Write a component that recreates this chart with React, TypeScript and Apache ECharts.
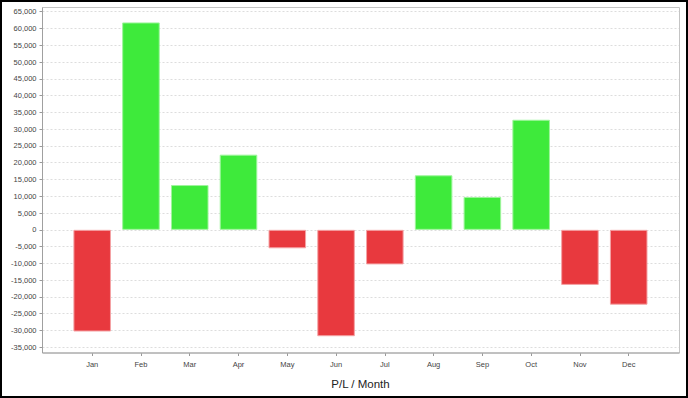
import React, { useEffect, useRef } from "react";
import * as echarts from "echarts";

const months = ["Jan", "Feb", "Mar", "Apr", "May", "Jun", "Jul", "Aug", "Sep", "Oct", "Nov", "Dec"];
const profitLoss = [-30300, 61800, 13350, 22400, -5500, -31700, -10300, 16250, 9800, 32800, -16400, -22300];
const yMin = -35000;
const yMax = 65000;
const yStep = 5000;
const axisTitle = "P/L / Month";

const FONT = "'Liberation Sans', Arial, sans-serif";

export default function App() {
  const ref = useRef<HTMLDivElement>(null);
  useEffect(() => {
    if (!ref.current) return;
    const chart = echarts.init(ref.current, undefined, { renderer: "svg" });
    const top = 11.7;
    const bottom = 398 - 347.3;
    chart.setOption({
      animation: false,
      backgroundColor: "#ffffff",
      grid: [
        { left: 42.5, right: 688 - 679.5, top, bottom },
        { left: 67.8, right: 688 - 653.1, top, bottom },
      ],
      xAxis: [
        { gridIndex: 0, type: "value", show: false, min: 0, max: 1 },
        {
          gridIndex: 1,
          type: "category",
          data: months,
          position: "bottom",
          offset: 5.7,
          axisLine: { show: false, onZero: false },
          axisTick: { show: true, alignWithLabel: true, length: 3, lineStyle: { color: "#999999" } },
          axisLabel: { fontFamily: FONT, fontSize: 7.5, color: "#444444", margin: 7 },
          name: axisTitle,
          nameLocation: "middle",
          nameGap: 24.5,
          nameTextStyle: { fontFamily: FONT, fontSize: 11.5, color: "#222222" },
        },
      ],
      yAxis: [
        {
          gridIndex: 0,
          type: "value",
          min: yMin,
          max: yMax,
          interval: yStep,
          axisLine: { show: false },
          axisTick: { show: true, length: 3, lineStyle: { color: "#999999" } },
          axisLabel: {
            fontFamily: FONT,
            fontSize: 7.5,
            color: "#444444",
            margin: 6,
            formatter: (v: number) => v.toLocaleString("en-US"),
          },
          splitLine: { show: true, lineStyle: { color: "#dddddd", type: [2, 2], width: 1 } },
        },
        { gridIndex: 1, type: "value", min: yMin, max: yMax, interval: yStep, show: false },
      ],
      series: [
        {
          type: "bar",
          xAxisIndex: 1,
          yAxisIndex: 1,
          barWidth: "77%",
          data: profitLoss.map((v) => ({
            value: v,
            itemStyle: v >= 0
              ? { color: "#3eea3b", borderColor: "#9ef59c", borderWidth: 1 }
              : { color: "#e8393e", borderColor: "#f4a3a5", borderWidth: 1 },
          })),
        },
      ],
      graphic: [
        {
          type: "rect",
          silent: true,
          z: 100,
          shape: { x: 42.5, y: 7.5, width: 637, height: 345.5 },
          style: { fill: "none", stroke: "#c4c4c4", lineWidth: 1 },
        },
        {
          type: "line",
          silent: true,
          z: 101,
          shape: { x1: 42.5, y1: 7.5, x2: 42.5, y2: 353 },
          style: { stroke: "#a0a0a0", lineWidth: 1 },
        },
        {
          type: "line",
          silent: true,
          z: 101,
          shape: { x1: 42.5, y1: 353, x2: 679.5, y2: 353 },
          style: { stroke: "#a0a0a0", lineWidth: 1 },
        },
        {
          type: "rect",
          silent: true,
          z: 102,
          shape: { x: 1, y: 1, width: 686, height: 396 },
          style: { fill: "none", stroke: "#000000", lineWidth: 2 },
        },
      ],
    });
    return () => chart.dispose();
  }, []);
  return (
    <div
      ref={ref}
      style={{ position: "fixed", left: 0, top: 0, width: 688, height: 398, background: "#fff" }}
    />
  );
}
